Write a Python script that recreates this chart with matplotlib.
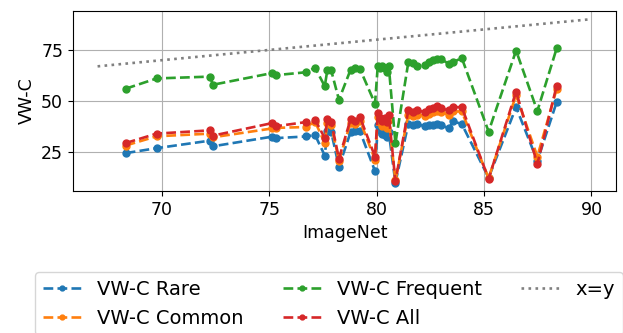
import numpy as np
import matplotlib
matplotlib.use("Agg")
import matplotlib.pyplot as plt

# ImageNet accuracy of each model (sorted) and the VW-C scores per split
imagenet = [68.31, 69.75, 72.25, 72.36, 75.12, 75.31, 76.69, 77.13, 77.58, 77.70,
            77.88, 78.24, 78.78, 79.00, 79.22, 79.92, 80.05, 80.15, 80.25, 80.38,
            80.47, 80.56, 80.87, 81.47, 81.68, 81.86, 82.25, 82.45, 82.61, 82.79,
            82.98, 83.38, 83.54, 83.96, 85.21, 86.49, 87.48, 88.38]

vwc_rare = [24.7, 27.1, 30.8, 28.0, 32.7, 32.0, 32.8, 33.5, 23.5, 35.3,
            35.0, 18.1, 34.8, 35.3, 35.3, 15.9, 38.5, 36.0, 34.0, 33.7,
            32.4, 35.0, 10.3, 38.9, 38.3, 38.9, 37.8, 38.3, 38.3, 38.9,
            38.3, 36.7, 40.2, 38.9, 12.7, 47.1, 20.9, 49.6]

vwc_common = [28.4, 32.9, 34.2, 32.4, 36.7, 37.0, 37.4, 40.0, 29.6, 39.5,
              38.5, 21.0, 39.5, 39.0, 40.5, 21.5, 42.5, 40.0, 38.0, 38.5,
              37.0, 41.0, 11.5, 43.5, 43.0, 43.5, 43.0, 44.0, 44.5, 45.0,
              44.5, 43.5, 45.0, 45.0, 12.5, 53.0, 23.0, 56.0]

vwc_frequent = [56.1, 61.1, 62.0, 58.0, 63.7, 62.7, 64.1, 66.3, 57.3, 65.2,
                65.0, 50.7, 65.3, 66.2, 65.7, 48.8, 67.4, 66.0, 67.0, 66.0,
                64.3, 67.3, 29.5, 68.9, 68.4, 67.3, 67.8, 68.9, 70.1, 70.6,
                70.6, 68.1, 68.9, 71.1, 35.2, 74.7, 45.2, 75.8]

vwc_all = [29.6, 34.2, 35.8, 33.2, 39.3, 37.8, 39.8, 41.0, 32.0, 41.3,
           40.0, 22.0, 41.1, 40.2, 42.2, 23.0, 44.3, 42.0, 40.5, 42.0,
           40.0, 43.5, 11.0, 45.5, 44.7, 45.5, 44.7, 46.0, 46.8, 47.6,
           46.5, 45.5, 47.1, 47.1, 12.1, 54.7, 19.4, 57.5]

diag = [67, 90]

plt.rcParams["font.size"] = 12.5

fig = plt.figure(figsize=(6.23, 3.33), dpi=100)
ax = fig.add_axes([0.117, 0.427, 0.872, 0.54])

style = dict(linestyle="--", marker="o", markersize=5, linewidth=1.9)
ax.plot(imagenet, vwc_rare, color="tab:blue", label="VW-C Rare", **style)
ax.plot(imagenet, vwc_common, color="tab:orange", label="VW-C Common", **style)
ax.plot(imagenet, vwc_frequent, color="tab:green", label="VW-C Frequent", **style)
ax.plot(imagenet, vwc_all, color="tab:red", label="VW-C All", **style)
ax.plot(diag, diag, color="gray", linestyle=":", linewidth=1.9, label="x=y")

ax.set_xticks([70, 75, 80, 85, 90])
ax.set_yticks([25, 50, 75])
ax.set_xlabel("ImageNet")
ax.set_ylabel("VW-C")
ax.grid(True)

# legend sits below the axes and runs past the bottom edge, as in the original
ax.legend(loc="upper left", bbox_to_anchor=(35 / 623, 1 - 272 / 333),
          bbox_transform=fig.transFigure, borderaxespad=0, ncol=3,
          fontsize=14, markerscale=0.7)

fig.savefig("out.png", dpi=100)
